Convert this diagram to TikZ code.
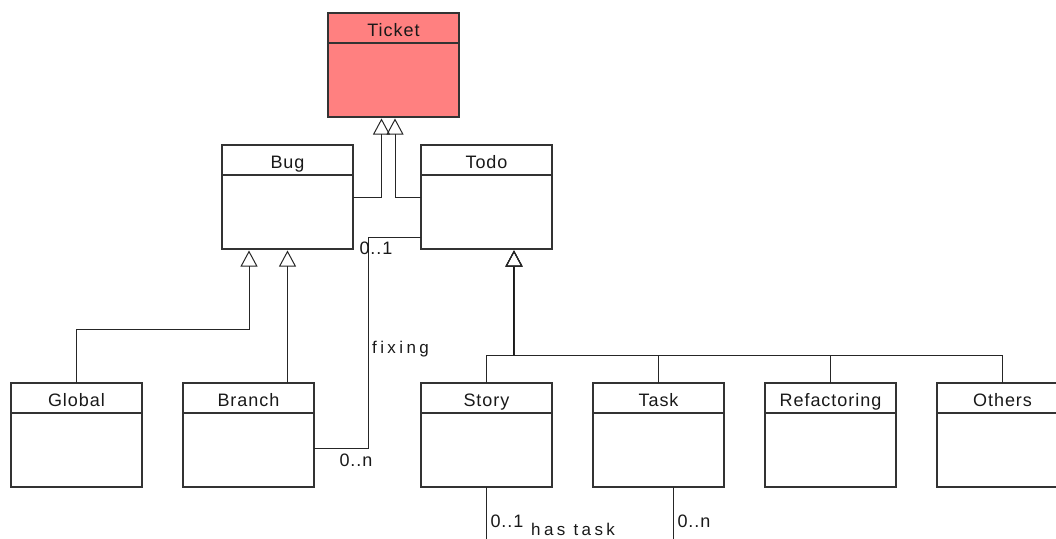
\documentclass[tikz,border=0pt]{standalone}
\usepackage{fontspec}
\setmainfont{Liberation Sans}
\newfontfamily\umlfont[LetterSpace=5.5]{Liberation Sans}
\newfontfamily\rolefont[LetterSpace=20]{Liberation Sans}
\usetikzlibrary{arrows.meta,calc}

\tikzset{
  classbox/.style={draw=black!80, line width=1.1pt, minimum width=131pt,
    minimum height=104pt, inner sep=0pt, outer sep=0pt, anchor=north west, fill=white},
  classname/.style={anchor=base, inner sep=0pt, text=black!90,
    font=\umlfont\fontsize{18}{20}\selectfont},
  classrule/.style={draw=black!80, line width=1.1pt},
  gen/.style={draw=black!85, line width=1pt, shorten >=1.5pt,
    -{Triangle[open, width=17pt, length=16pt, line width=1pt]}},
  trunk/.style={draw=black!90, line width=1.8pt},
  assoc/.style={draw=black!85, line width=1pt},
  mult/.style={inner sep=0pt, text=black!90, font=\umlfont\fontsize{18}{20}\selectfont},
  role/.style={inner sep=0pt, text=black!90, anchor=base west,
    font=\rolefont\fontsize{17}{20}\selectfont},
}

% class box with a title compartment
\newcommand\umlclass[5][]{%
  \node[classbox,#1] (#2) at (#3) {};
  \node[classname] (#2-name) at ([yshift=-23pt]#2.north) {#4};
  \draw[classrule] ([yshift=-30pt]#2.north west) -- ([yshift=-30pt]#2.north east);
}

\begin{document}
\begin{tikzpicture}[x=1pt,y=-1pt]
\useasboundingbox (0,0) rectangle (1056,538);
\clip (0,0) rectangle (1056,538);

% classes
\umlclass[fill={rgb,255:red,255;green,128;blue,128}]{ticket}{328,13}{Ticket}{}
\umlclass{bug}{222,145}{Bug}{}
\umlclass{todo}{421,145}{Todo}{}
\umlclass{global}{11,383}{Global}{}
\umlclass{branch}{183,383}{Branch}{}
\umlclass{story}{421,383}{Story}{}
\umlclass{task}{593,383}{Task}{}
\umlclass{refactoring}{765,383}{Refactoring}{}
\umlclass{others}{937,383}{Others}{}

% generalisation: Bug and Todo are tickets
\coordinate (ticketTipA) at ([xshift=-12pt]ticket.south);
\coordinate (ticketTipB) at ([xshift=1.5pt]ticket.south);
\draw[gen] (bug.east) -| (ticketTipA);
\draw[gen] (todo.west) -| (ticketTipB);

% generalisation: kinds of bug
\coordinate (bugTipA) at ([xshift=-38.5pt]bug.south);
\coordinate (bugBend) at ($(global.north)+(0,-54)$);
\draw[gen] (global.north) -- (bugBend) -| (bugTipA);
\draw[gen] (bug.south |- branch.north) -- (bug.south);

% generalisation: kinds of todo, joined on one bus
\coordinate (todoTip) at ([xshift=27.5pt]todo.south);
\coordinate (todoBus) at ($(todoTip)+(0,106)$);
\coordinate (todoBase) at ($(todoTip)+(0,17)$);
\draw[trunk] (todoBus) -- (todoBase);
\foreach \c in {story,task,refactoring,others}
  \draw[gen] (\c.north) |- (todoBus) -- (todoTip);

% association "fixing" between Todo and Branch
\coordinate (fixTodo) at ([yshift=12pt]todo.south west);
\coordinate (fixBranch) at ([yshift=39pt]branch.south east);
\coordinate (fixCorner) at (368,448);
\draw[assoc] (fixTodo) -| (fixCorner) -- (fixBranch);
\node[mult] (m01a) at (376,248) {0..1};
\node[role] (fixing) at (372,353) {fixing};
\node[mult] (m0na) at (356,460) {0..n};

% association "has task" between Story and Task
\coordinate (storyEnd) at ($(story.south)+(0,60)$);
\coordinate (taskEnd) at ($([xshift=14.5pt]task.south)+(0,60)$);
\draw[assoc] (story.south) -- (storyEnd);
\draw[assoc] ([xshift=14.5pt]task.south) -- (taskEnd);
\node[mult] (m01b) at (507,521) {0..1};
\node[role] (hastask) at (531,535) {has task};
\node[mult] (m0nb) at (694,521) {0..n};
\end{tikzpicture}
\end{document}
